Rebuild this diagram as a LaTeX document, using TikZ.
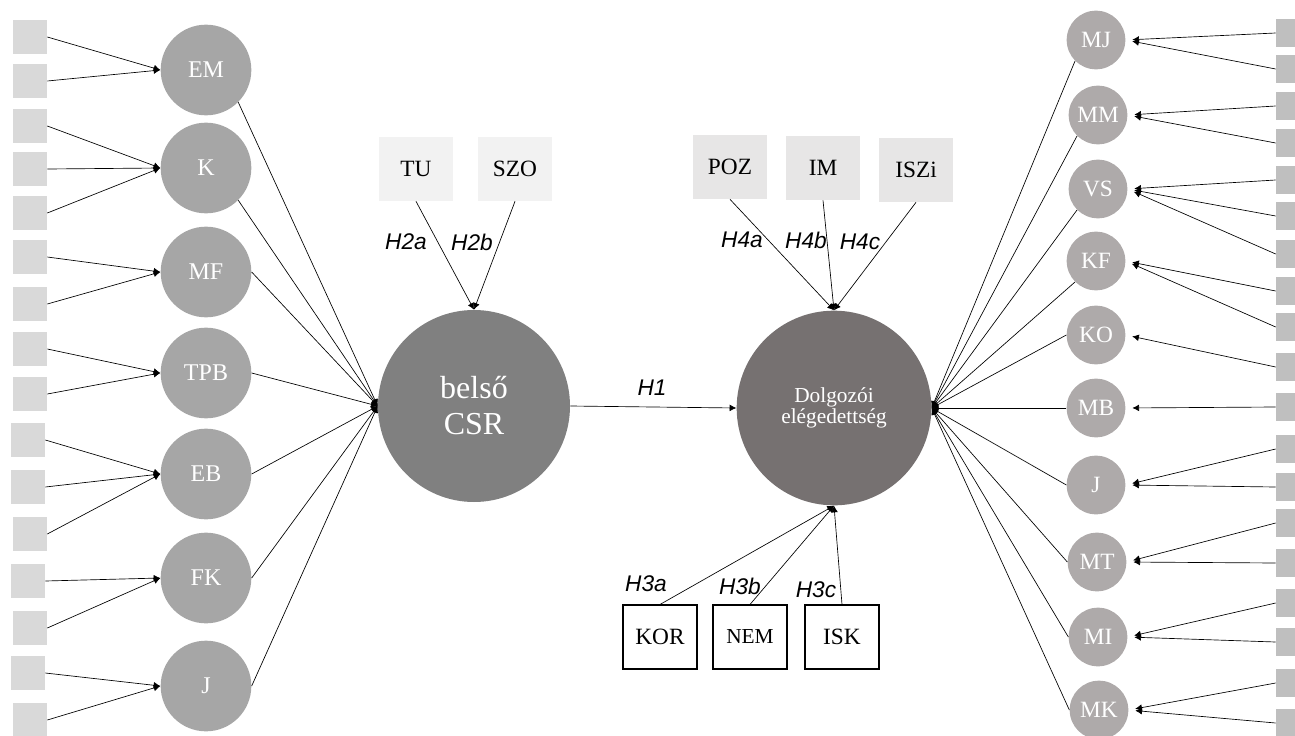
\documentclass[tikz,border=0pt]{standalone}
\usepackage{fontspec}
\setmainfont{Liberation Serif}
\setsansfont{Liberation Sans}
\usetikzlibrary{arrows.meta}

\definecolor{itemgray}{HTML}{D9D9D9}
\definecolor{ritemgray}{HTML}{BFBFBF}
\definecolor{dimgray}{HTML}{A6A6A6}
\definecolor{rdimgray}{HTML}{AEAAAA}
\definecolor{csrgray}{HTML}{808080}
\definecolor{degray}{HTML}{767171}
\definecolor{ctrlgray}{HTML}{F2F2F2}
\definecolor{modgray}{HTML}{E7E6E6}

\begin{document}
\begin{tikzpicture}[x=0.75pt,y=-0.75pt,->,>={Latex[length=5pt,width=5pt]},
                    line width=0.5pt]
    \tikzstyle{item}=[rectangle,fill=itemgray,minimum size=25.5pt,inner sep=0pt]
    \tikzstyle{ritem}=[rectangle,fill=ritemgray,minimum size=21pt,inner sep=0pt]
    \tikzstyle{dim}=[circle,fill=dimgray,minimum size=68pt,inner sep=0pt,
                     text=white,font=\fontsize{18}{20}\selectfont]
    \tikzstyle{rdim}=[circle,fill=rdimgray,minimum size=44pt,inner sep=0pt,
                      text=white,font=\fontsize{17.5}{19}\selectfont]
    \tikzstyle{ctrl}=[rectangle,minimum width=55.5pt,minimum height=48pt,
                      inner sep=0pt,font=\fontsize{17.5}{19}\selectfont]
    \tikzstyle{hyp}=[inner sep=0pt,font=\fontsize{17}{19}\sffamily\itshape]

    \useasboundingbox (0,0) rectangle (1295,735);

    % indicator items, left
    \node[item] (s1)  at (30,37)  {};
    \node[item] (s2)  at (30,81)  {};
    \node[item] (s3)  at (30,126) {};
    \node[item] (s4)  at (30,169) {};
    \node[item] (s5)  at (30,213) {};
    \node[item] (s6)  at (30,257) {};
    \node[item] (s7)  at (30,304) {};
    \node[item] (s8)  at (30,349) {};
    \node[item] (s9)  at (30,394) {};
    \node[item] (s10) at (28,440) {};
    \node[item] (s11) at (28,487) {};
    \node[item] (s12) at (30,534) {};
    \node[item] (s13) at (28,581) {};
    \node[item] (s14) at (30,628) {};
    \node[item] (s15) at (28,673) {};
    \node[item] (s16) at (30,720) {};

    % dimensions of internal CSR
    \node[dim] (EM)  at (206,70)  {EM};
    \node[dim] (K)   at (206,168) {K};
    \node[dim] (MF)  at (206,272) {MF};
    \node[dim] (TPB) at (206,373) {TPB};
    \node[dim] (EB)  at (206,474) {EB};
    \node[dim] (FK)  at (206,578) {FK};
    \node[dim] (Jl)  at (206,686) {J};

    % the two latent variables
    \node[circle,fill=csrgray,minimum size=144pt,inner sep=0pt,text=white,
          align=center,font=\fontsize{24}{27}\selectfont] (CSR) at (474,406) {belső\\CSR};
    \node[circle,fill=degray,minimum size=146pt,inner sep=0pt,text=white,
          align=center,font=\fontsize{16}{16}\selectfont] (DE) at (834,408) {Dolgozói\\elégedettség};

    % control and moderator variables
    \node[ctrl,fill=ctrlgray] (TU)   at (416,169) {TU};
    \node[ctrl,fill=ctrlgray] (SZO)  at (515,169) {SZO};
    \node[ctrl,fill=modgray]  (POZ)  at (730,167) {POZ};
    \node[ctrl,fill=modgray]  (IM)   at (823,168) {IM};
    \node[ctrl,fill=modgray]  (ISZi) at (916,170) {ISZi};
    \node[ctrl,draw,line width=0.8pt] (KOR) at (660,637) {KOR};
    \node[ctrl,draw,line width=0.8pt,font=\fontsize{16}{18}\selectfont] (NEM) at (750,637) {NEM};
    \node[ctrl,draw,line width=0.8pt] (ISK) at (842,637) {ISK};

    % dimensions of satisfaction
    \node[rdim] (MJ) at (1096,40)  {MJ};
    \node[rdim] (MM) at (1098,115) {MM};
    \node[rdim] (VS) at (1098,189) {VS};
    \node[rdim] (KF) at (1096,261) {KF};
    \node[rdim] (KO) at (1096,335) {KO};
    \node[rdim] (MB) at (1096,408) {MB};
    \node[rdim] (Jr) at (1096,485) {J};
    \node[rdim] (MT) at (1097,562) {MT};
    \node[rdim] (MI) at (1098,637) {MI};
    \node[rdim] (MK) at (1099,710) {MK};

    % indicator items, right
    \node[ritem] (r1)  at (1290,33)  {};
    \node[ritem] (r2)  at (1290,69)  {};
    \node[ritem] (r3)  at (1290,106) {};
    \node[ritem] (r4)  at (1290,143) {};
    \node[ritem] (r5)  at (1290,180) {};
    \node[ritem] (r6)  at (1290,216) {};
    \node[ritem] (r7)  at (1290,254) {};
    \node[ritem] (r8)  at (1290,291) {};
    \node[ritem] (r9)  at (1290,327) {};
    \node[ritem] (r10) at (1290,367) {};
    \node[ritem] (r11) at (1290,407) {};
    \node[ritem] (r12) at (1290,449) {};
    \node[ritem] (r13) at (1290,487) {};
    \node[ritem] (r14) at (1290,523) {};
    \node[ritem] (r15) at (1290,563) {};
    \node[ritem] (r16) at (1290,603) {};
    \node[ritem] (r17) at (1290,642) {};
    \node[ritem] (r18) at (1290,683) {};
    \node[ritem] (r19) at (1290,723) {};

    % hypothesis labels
    \node[hyp] (h1)  at (652,388) {H1};
    \node[hyp] (h2a) at (406,242) {H2a};
    \node[hyp] (h2b) at (472,242) {H2b};
    \node[hyp] (h3a) at (646,584) {H3a};
    \node[hyp] (h3b) at (740,586) {H3b};
    \node[hyp] (h3c) at (816,590) {H3c};
    \node[hyp] (h4a) at (742,240) {H4a};
    \node[hyp] (h4b) at (806,240) {H4b};
    \node[hyp] (h4c) at (860,242) {H4c};

    \path   (s1.east)  edge (EM.west)
            (s2.east)  edge (EM.west)
            (s3.east)  edge (K.west)
            (s4.east)  edge (K.west)
            (s5.east)  edge (K.west)
            (s6.east)  edge (MF.west)
            (s7.east)  edge (MF.west)
            (s8.east)  edge (TPB.west)
            (s9.east)  edge (TPB.west)
            (s10.east) edge (EB.west)
            (s11.east) edge (EB.west)
            (s12.east) edge (EB.west)
            (s13.east) edge (FK.west)
            (s14.east) edge (FK.west)
            (s15.east) edge (Jl.west)
            (s16.east) edge (Jl.west);

    \path   (EM.south east) edge (CSR.west)
            (K.south east)  edge (CSR.west)
            (MF.east)       edge (CSR.west)
            (TPB.east)      edge (CSR.west)
            (EB.east)       edge (CSR.west)
            (FK.east)       edge (CSR.west)
            (Jl.east)       edge (CSR.west);

    \path   (CSR.east) edge (DE.west)
            (TU.south)   edge (CSR.north)
            (SZO.south)  edge (CSR.north)
            (POZ.south)  edge (DE.north)
            (IM.south)   edge (DE.north)
            (ISZi.south) edge (DE.north)
            (KOR.north)  edge (DE.south)
            (NEM.north)  edge (DE.south)
            (ISK.north)  edge (DE.south);

    \path   (MJ.south west) edge (DE.east)
            (MM.south west) edge (DE.east)
            (VS.south west) edge (DE.east)
            (KF.south west) edge (DE.east)
            (KO.west)       edge (DE.east)
            (MB.west)       edge (DE.east)
            (Jr.west)       edge (DE.east)
            (MT.west)       edge (DE.east)
            (MI.west)       edge (DE.east)
            (MK.west)       edge (DE.east);

    \path[shorten >=5pt]
            (r1.west)  edge (MJ.east)
            (r2.west)  edge (MJ.east)
            (r3.west)  edge (MM.east)
            (r4.west)  edge (MM.east)
            (r5.west)  edge (VS.east)
            (r6.west)  edge (VS.east)
            (r7.west)  edge (VS.east)
            (r8.west)  edge (KF.east)
            (r9.west)  edge (KF.east)
            (r10.west) edge (KO.east)
            (r11.west) edge (MB.east)
            (r12.west) edge (Jr.east)
            (r13.west) edge (Jr.east)
            (r14.west) edge (MT.east)
            (r15.west) edge (MT.east)
            (r16.west) edge (MI.east)
            (r17.west) edge (MI.east)
            (r18.west) edge (MK.east)
            (r19.west) edge (MK.east);
\end{tikzpicture}
\end{document}
